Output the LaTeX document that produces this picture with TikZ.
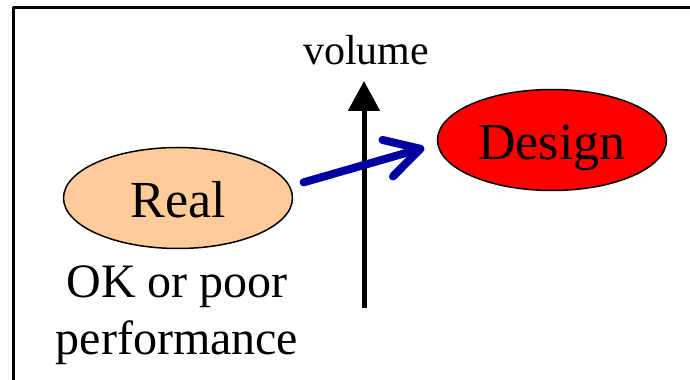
\documentclass[tikz,border=0pt]{standalone}
\usepackage{fontspec}
\setmainfont{Liberation Serif}
\usetikzlibrary{arrows.meta,shapes.geometric}
\definecolor{peach}{RGB}{255,204,153}
\definecolor{navy}{RGB}{0,0,160}
\tikzset{
  oval/.style={draw,ellipse,line width=1.5bp,inner sep=0pt,text height=40bp,text depth=0pt,
    minimum width=229bp,minimum height=101bp,font=\fontsize{52bp}{62bp}\selectfont},
}
\begin{document}
\begin{tikzpicture}[>=latex,line join=bevel,]
\useasboundingbox (0bp,0bp) rectangle (690bp,380bp);
\clip (0bp,0bp) rectangle (690bp,380bp);
%% frame, only its top and left sides fall inside
\draw [black,line width=3bp] (13.5bp,-20bp) rectangle (720bp,372bp);
%%
\node (node_real) at (178bp,182bp) [oval,fill=peach] {Real};
  \node (node_design) at (552bp,240bp) [oval,fill=red] {Design};
  \node (node_note) at (177bp,65bp) [draw=none,inner sep=0pt,align=center,
    font=\fontsize{48bp}{57bp}\selectfont] {OK or poor\\performance};
  \coordinate (axis_foot) at (364bp,72bp);
  \coordinate (axis_top) at (364bp,299bp);
  \node (node_volume) at (366bp,315bp) [anchor=base,draw=none,inner sep=0pt,
    font=\fontsize{42bp}{50bp}\selectfont] {volume};
  \draw [black,line width=5bp,-{Triangle[length=30bp,width=31bp]}] (axis_foot) -- (axis_top);
  \draw [navy,line width=8bp,line cap=round,shorten <=14bp,shorten >=13.4bp,
    -{Straight Barb[length=34bp,width=38bp,round]}] (node_real.6.35) -- (node_design.182.2);
%
\end{tikzpicture}
\end{document}
